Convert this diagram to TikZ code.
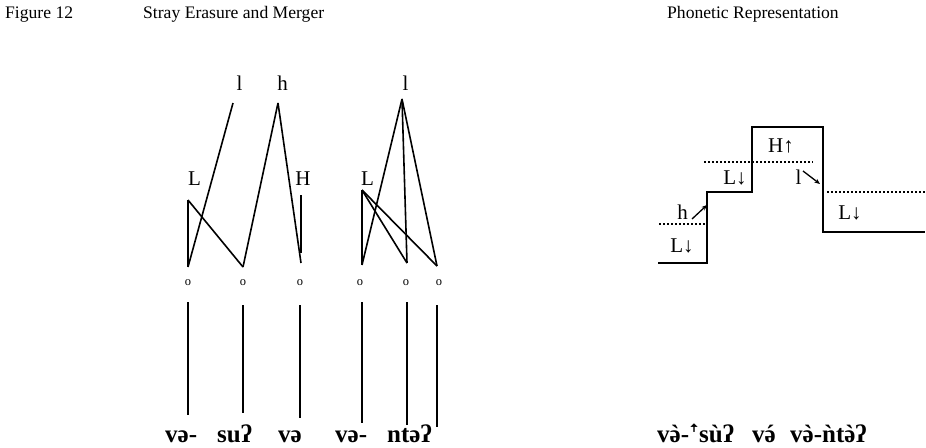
\documentclass[tikz,border=0pt]{standalone}
\usepackage{fontspec}
\setmainfont{Liberation Serif}
\usetikzlibrary{arrows.meta}
\newcommand{\sgr}{{\accent"2CB ə}}
\newcommand{\sac}{{\accent"B4 ə}}
\begin{document}
\begin{tikzpicture}[x=1pt,y=-1pt,
  assoc/.style={line width=1.6pt},
  stepline/.style={line width=1.8pt},
  lab/.style={font=\fontsize{21}{24}\selectfont, inner sep=0pt, anchor=base},
  ttl/.style={font=\fontsize{17.6}{20}\selectfont, inner sep=0pt, anchor=base west},
  wd/.style={font=\fontsize{25}{28}\selectfont\bfseries, inner sep=0pt, anchor=base west},
  tbu/.style={font=\fontsize{12.5}{14}\selectfont, inner sep=0pt},
  dotline/.style={line width=2pt, dash pattern=on 2pt off 2pt},
  tonearrow/.style={line width=1.3pt, -{Stealth[length=5.5pt,width=4.5pt]}}
  ]
\useasboundingbox (0,0) rectangle (926,447);
% titles
\node[ttl] (t1) at (5,19) {Figure 12};
\node[ttl] (t2) at (143,19) {Stray Erasure and Merger};
\node[ttl] (t3) at (667,19) {Phonetic Representation};

% left tone labels
\node[lab] (ll1) at (239.5,90) {l};
\node[lab] (hh1) at (282.5,90) {h};
\node[lab] (ll2) at (405.5,90) {l};
\node[lab] (LL1) at (194.5,185) {L};
\node[lab] (HH1) at (303,185) {H};
\node[lab] (LL2) at (367.5,185) {L};

% vertices
\coordinate (l1v) at (233,103);
\coordinate (h1v) at (278,103);
\coordinate (L1v) at (188,200);
\coordinate (H1v) at (301,195);
\coordinate (L2v) at (362,190);
\coordinate (l2v) at (402,99);

% lower ends of association lines
\coordinate (e1) at (188,267);
\coordinate (e2) at (243,267);
\coordinate (e3) at (301,263);
\coordinate (e3b) at (301,253);
\coordinate (e4) at (362,265);
\coordinate (e5) at (407,263);
\coordinate (e6) at (437,266);

\draw[assoc] (l1v) -- (e1);
\draw[assoc] (h1v) -- (e2);
\draw[assoc] (h1v) -- (e3);
\draw[assoc] (L1v) -- (e1);
\draw[assoc] (L1v) -- (e2);
\draw[assoc] (H1v) -- (e3b);
\draw[assoc] (L2v) -- (e4);
\draw[assoc] (L2v) -- (e5);
\draw[assoc] (L2v) -- (e6);
\draw[assoc] (l2v) -- (e4);
\draw[assoc] (l2v) -- (e5);
\draw[assoc] (l2v) -- (e6);

% tone bearing units
\node[tbu] (o1) at (188,283) {o};
\node[tbu] (o2) at (243,283) {o};
\node[tbu] (o3) at (300,283) {o};
\node[tbu] (o4) at (360,283) {o};
\node[tbu] (o5) at (406,283) {o};
\node[tbu] (o6) at (439,283) {o};

% segmental words
\node[wd] (w1) at (165,442) {və-};
\node[wd] (w2) at (217,442) {suʔ};
\node[wd] (w3) at (278,442) {və};
\node[wd] (w4) at (335,442) {və-};
\node[wd] (w5) at (387,442) {ntəʔ};

\coordinate (s1a) at (188,302); \coordinate (s1b) at (188,415);
\coordinate (s2a) at (243,305); \coordinate (s2b) at (243,413);
\coordinate (s3a) at (300,305); \coordinate (s3b) at (300,418);
\coordinate (s4a) at (362,302); \coordinate (s4b) at (362,423);
\coordinate (s5a) at (407,302); \coordinate (s5b) at (407,425);
\coordinate (s6a) at (437,305); \coordinate (s6b) at (437,427);
\foreach \i in {1,...,6} \draw[assoc] (s\i a) -- (s\i b);

% phonetic representation
\coordinate (p0) at (658,263);
\coordinate (p1) at (707,263);
\coordinate (p2) at (707,192);
\coordinate (p3) at (752,192);
\coordinate (p4) at (752,127);
\coordinate (p5) at (823,127);
\coordinate (p6) at (823,232);
\coordinate (p7) at (925,232);
\draw[stepline] (p0) -- (p1) -- (p2) -- (p3) -- (p4) -- (p5) -- (p6) -- (p7);

\coordinate (d1a) at (659,224); \coordinate (d1b) at (707,224);
\coordinate (d2a) at (704,162); \coordinate (d2b) at (813,162);
\coordinate (d3a) at (827,192); \coordinate (d3b) at (926,192);
\draw[dotline] (d1a) -- (d1b);
\draw[dotline] (d2a) -- (d2b);
\draw[dotline] (d3a) -- (d3b);

\node[lab] (pL1) at (682,252) {L↓};
\node[lab] (ph) at (682.5,219) {h};
\node[lab] (pL2) at (735,184) {L↓};
\node[lab] (pH) at (781,152) {H↑};
\node[lab] (pl) at (798.5,184) {l};
\node[lab] (pL3) at (850,219) {L↓};

\coordinate (a1s) at (692,219); \coordinate (a1e) at (707,205);
\coordinate (a2s) at (803,171); \coordinate (a2e) at (820,184);
\draw[tonearrow] (a1s) -- (a1e);
\draw[tonearrow] (a2s) -- (a2e);

\node[wd] (r1) at (657,442) {v\sgr-{\mdseries\fontsize{20}{22}\selectfont ꜛ}sùʔ};
\node[wd] (r2) at (752,442) {v\sac};
\node[wd] (r3) at (790,442) {v\sgr-ǹt\sgr ʔ};
\end{tikzpicture}
\end{document}
